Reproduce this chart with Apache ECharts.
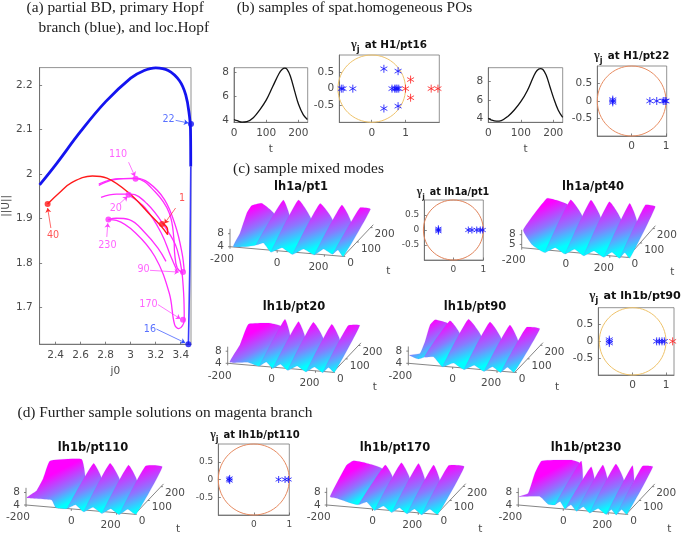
<!DOCTYPE html>
<html><head><meta charset="utf-8">
<style>html,body{margin:0;padding:0;background:#fff}#c{width:685px;height:534px;filter:blur(0.5px)}</style>
<script src="https://cdn.jsdelivr.net/npm/echarts@6/dist/echarts.min.js"></script>
</head><body><div id="c"></div>
<script>
// ---------- panel (a) bifurcation diagram: [j0, ||U||]
const blueThick=[[2.272,1.976],[2.4,2.021],[2.6,2.096],[2.8,2.163],[3.0,2.216],[3.1,2.232],[3.2,2.239],[3.3,2.233],[3.39,2.21],[3.44,2.178],[3.47,2.13],[3.478,2.1],[3.48,2.017]];
const blueThin=[[3.48,2.017],[3.475,1.85],[3.468,1.72],[3.461,1.618]];
const redBranch=[[2.336,1.933],[2.426,1.957],[2.528,1.981],[2.694,1.996],[2.81,1.991],[2.988,1.957],[3.142,1.913],[3.244,1.883],[3.295,1.864],[3.295,1.875],[3.257,1.89]];
const magenta1=[[2.745,1.975],[2.86,1.987],[3.039,1.991],[3.142,1.981],[3.27,1.943],[3.359,1.883],[3.41,1.823],[3.428,1.782]];
const magenta2=[[2.745,1.978],[2.912,1.99],[3.039,1.99],[3.193,1.961],[3.308,1.913],[3.346,1.853],[3.351,1.823],[3.372,1.789],[3.418,1.778]];
const magenta3=[[2.763,1.948],[2.886,1.955],[3.001,1.955],[3.129,1.934],[3.27,1.883],[3.372,1.83],[3.423,1.733],[3.428,1.673],[3.385,1.653],[3.351,1.662],[3.308,1.733],[3.193,1.815],[3.039,1.868],[2.886,1.896],[2.822,1.898]];
const magenta4=[[2.822,1.898],[2.886,1.901],[2.988,1.898],[3.116,1.868],[3.218,1.834],[3.282,1.804]];
const magenta5=[[2.988,1.952],[3.116,1.924],[3.244,1.868],[3.321,1.815],[3.372,1.782]];
const redPts=[[2.336,1.933],[3.25,1.888]];
const magentaPts=[[3.039,1.99],[2.983,1.954],[2.822,1.898],[3.418,1.78],[3.418,1.673]];
const bluePts=[[3.482,2.113],[3.461,1.618]];
// [text, color, labelX, labelY, arrowFromX, arrowFromY, arrowToX, arrowToY]
const annotations=[
 ['22','#2f4dff',3.303,2.122,3.359,2.121,3.461,2.115],
 ['16','#2f4dff',3.154,1.651,3.206,1.652,3.436,1.621],
 ['110','#ff3cff',2.899,2.044,2.983,2.027,3.034,1.995],
 ['20','#ff3cff',2.881,1.922,2.912,1.934,2.975,1.95],
 ['1','#ff2a2a',3.41,1.946,3.359,1.924,3.27,1.889],
 ['40','#ff2a2a',2.38,1.862,2.362,1.879,2.336,1.924],
 ['230','#ff3cff',2.814,1.84,2.809,1.859,2.817,1.89],
 ['90','#ff3cff',3.103,1.785,3.154,1.784,3.385,1.78],
 ['170','#ff3cff',3.142,1.707,3.218,1.707,3.397,1.675]];
const j0Ticks=[2.4,2.6,2.8,3,3.2,3.4];
const normTicks=[1.7,1.8,1.9,2,2.1,2.2];

// ---------- panel (b) time series
const pt16Series=[[0,4.1],[10,4],[25,3.88],[40,3.92],[60,4.25],[80,4.9],[100,5.7],[120,6.8],[140,7.9],[150,8.25],[158,8.35],[165,8.25],[175,7.7],[190,6.3],[200,5.4],[215,4.5],[228,4.1]];
const pt22Series=[[0,4],[10,3.8],[25,3.68],[40,3.75],[60,4.2],[80,4.9],[100,5.8],[120,7],[140,8.6],[150,9.2],[160,9.4],[168,9.3],[178,8.7],[190,7.4],[200,6.3],[215,4.9],[229,4.1]];
const timeTicks=[0,100,200];

// ---------- Floquet multipliers
const pt16Blue=[[-0.9,0],[-0.85,0],[-0.56,0],[0.36,0.59],[0.78,0.52],[0.36,-0.59],[0.78,-0.52],[0.6,0],[0.68,0],[0.72,0],[0.8,0],[0.75,0]];
const pt16Red=[[1,0],[1.15,0.27],[1.15,-0.27],[1.76,0],[1.96,0]];
const pt22Blue=[[-0.55,0],[-0.55,0.04],[-0.55,-0.04],[0.53,0],[0.73,0],[0.92,0],[0.97,0],[1,0]];
const lh1aPt1Blue=[[-0.5,0],[-0.5,0.04],[-0.5,-0.04],[0.5,0],[0.62,0],[0.78,0],[0.9,0],[0.98,0]];
const lh1bPt90Blue=[[-0.7,0],[-0.7,0.05],[-0.7,-0.05],[0.72,0],[0.8,0],[0.88,0],[0.95,0]];
const lh1bPt90Red=[[1.2,0]];
const lh1bPt110Blue=[[-0.7,0],[-0.68,0.03],[-0.68,-0.03],[0.7,0],[0.88,0],[0.98,0]];

// ---------- waterfall surfaces: crest at t=200, valley at t=0 for each ridge
const pt1CrestX=[-181,-90,-26,66,158,235,280];
const pt1CrestZ=[8.6,10.2,10.6,10.1,10.2,9.85,9.7];
const pt1ValleyZ=[4.1,5.2,3.4,3.3,3.7,4.4,3.9];
const pt1Lead=[[-186,0,4.1],[-200,73,4.9],[-200,122,8.8],[-200,159,9.6]];
const pt1Base=[];
const pt40CrestX=[-160,-94,-2,82,174,245,291];
const pt40CrestZ=[10.05,10.5,11,11,11.1,11,10.8];
const pt40ValleyZ=[5.1,3.2,3.3,3.3,3.4,3.5,3.8];
const pt40Lead=[[-193,0,9.5],[-202,200,10.3]];
const pt40Base=[[-151,5.1]];
const pt20CrestX=[-123,-55,6,74,158,233,286];
const pt20CrestZ=[8.9,10.6,10.2,10.4,10.3,10.3,10.7];
const pt20ValleyZ=[4.4,4,3.6,3.4,3.4,3.6,4];
const pt20Lead=[[-190,0,4.4],[-200,97,5.8],[-200,163,9.7]];
const pt20Base=[[-109,4.9]];
const pt90CrestX=[-195,-128,-45,52,142,217,277];
const pt90CrestZ=[9.4,9.5,10.5,10.2,9.8,9.5,9.4];
const pt90ValleyZ=[6.7,6.5,3.8,3.5,3.5,3.6,4];
const pt90Lead=[[-195,0,6.7],[-200,91,3.2],[-200,130,5.3],[-200,169,9]];
const pt90Base=[[-155,5.7]];
const pt110CrestX=[-70,-18,55,136,212,286];
const pt110CrestZ=[10.6,9.6,10.1,10,10.2,10.4];
const pt110ValleyZ=[6.35,4,3.4,3.4,3.5,4];
const pt110Lead=[[-197,0,6.35],[-200,81,5],[-200,132,6.7],[-210,200,9.2]];
const pt110Base=[[-68,3.9],[-87,6.3]];
const pt170CrestX=[-148,-60,10,85,151,216,285];
const pt170CrestZ=[8.9,8.7,9.85,10.1,10,10.2,10.3];
const pt170ValleyZ=[6.7,5,3.6,3.4,3.4,3.5,4];
const pt170Lead=[[-185,0,6.7],[-200,88,8],[-200,151,10],[-199,200,9.2]];
const pt170Base=[[-113,5.6],[-156,6.4]];
const pt230CrestX=[-80,-36,8,60,118,192,236,283];
const pt230CrestZ=[10.3,10.25,8.7,9.6,10.25,10.2,10.3,10.4];
const pt230ValleyZ=[6.7,5.1,4,3.6,3.4,3.4,3.5,4];
const pt230Lead=[[-197,0,6.7],[-200,76,4.4],[-200,127,8.5],[-212,200,9.2]];
const pt230Base=[[-68,5.1],[-104,7.3]];
const surfXTicks=[-200,0,200];
const surfTTicks=[0,100,200];
const crestT=200;
const xEnd=280, tEnd=220;
const frontBumpZ=1.7;

// ---------- option assembly
const SANS='"DejaVu Sans"', SERIF='"Liberation Serif"', INK='#4a4a4a';
const grids=[],xAxes=[],yAxes=[],series=[],titles=[];
function addGrid(left,top,width,height,border){
  grids.push({left,top,width,height,show:!!border,borderColor:'#777',borderWidth:0.8,backgroundColor:'transparent'});
  return grids.length-1;
}
function plotAxis(gi,min,max,ticks,size,extra){
  return Object.assign({type:'value',gridIndex:gi,min,max,
    axisLine:{show:true,onZero:false,lineStyle:{color:'#666',width:0.8}},
    axisTick:{show:true,inside:true,length:2.5,customValues:ticks,lineStyle:{color:'#666',width:0.8}},
    axisLabel:{show:true,customValues:ticks,fontFamily:SANS,fontSize:size,color:INK,margin:5,hideOverlap:false,showMinLabel:true,showMaxLabel:true},
    splitLine:{show:false}},extra||{});
}
function text(t,left,top,size){titles.push({text:t,left,top,textAlign:'left',padding:0,textStyle:{fontFamily:SERIF,fontWeight:'normal',fontSize:size||15.4,color:'#222'}});}

// headings
text('(a) partial BD, primary Hopf',26.5,0);
text('branch (blue), and loc.Hopf',38.6,20);
text('(b) samples of spat.homogeneous POs',236.7,0);
text('(c) sample mixed modes',233,161);
text('(d) Further sample solutions on magenta branch',17.5,405);

// panel (a)
(function(){
  const g=addGrid(33.4,67.6,157.6,276.6,true);
  xAxes.push(plotAxis(g,2.272,3.482,j0Ticks,10.5,{name:'j0',nameLocation:'middle',nameGap:22,nameTextStyle:{fontFamily:SANS,fontSize:10.5,color:INK},axisLabel:{customValues:j0Ticks,fontFamily:SANS,fontSize:10.5,color:INK,margin:6,formatter:v=>String(v)}}));
  yAxes.push(plotAxis(g,1.618,2.2395,normTicks,10.5,{name:'||U||',nameLocation:'middle',nameGap:22,nameTextStyle:{fontFamily:SANS,fontSize:10.5,color:INK},axisLabel:{customValues:normTicks,fontFamily:SANS,fontSize:10.5,color:INK,margin:7,formatter:v=>String(v)}}));
  const line=(d,c,w)=>series.push({type:'line',xAxisIndex:g,yAxisIndex:g,data:d,showSymbol:false,smooth:0.4,clip:false,lineStyle:{color:c,width:w},silent:true,z:3});
  line(magenta1,'#ff2cff',1.3);line(magenta2,'#ff2cff',1.3);line(magenta3,'#ff2cff',1.3);line(magenta4,'#ff2cff',1.3);line(magenta5,'#ff2cff',1.3);
  line(redBranch,'#ff1a1a',1.4);
  line(blueThick,'#1414f0',2.8);line(blueThin,'#3a3aff',1.6);
  const dots=(d,c)=>series.push({type:'scatter',xAxisIndex:g,yAxisIndex:g,data:d,symbol:'circle',symbolSize:6,clip:false,itemStyle:{color:c},z:5});
  dots(redPts,'#ff1a1a');dots(magentaPts,'#ff2cff');dots(bluePts,'#1414f0');
  annotations.forEach(a=>{
    series.push({type:'scatter',xAxisIndex:g,yAxisIndex:g,data:[[a[2],a[3]]],symbolSize:0,clip:false,z:6,
      label:{show:true,position:'inside',formatter:a[0],fontFamily:SANS,fontSize:9.6,color:a[1]},
      markLine:{silent:true,symbol:['none','arrow'],symbolSize:4.5,label:{show:false},animation:false,
        lineStyle:{color:a[1],width:0.7,type:'solid'},
        data:[[{coord:[a[4],a[5]]},{coord:[a[6],a[7]]}]]}});
  });
})();

// time series
function addTime(left,top,width,height,xmax,ymin,ymax,yticks,data){
  const g=addGrid(left,top,width,height,true);
  xAxes.push(plotAxis(g,0,xmax,timeTicks,10.5,{name:'t',nameLocation:'middle',nameGap:21,nameTextStyle:{fontFamily:SANS,fontSize:10.5,color:INK}}));
  yAxes.push(plotAxis(g,ymin,ymax,yticks,10.5));
  series.push({type:'line',xAxisIndex:g,yAxisIndex:g,data,showSymbol:false,smooth:0.4,lineStyle:{color:'#111',width:1.3},silent:true});
}
addTime(234,67.7,73.7,54.6,229,3.87,8.38,[4,6,8],pt16Series);
addTime(488.3,67.7,74.4,54.6,229,3.56,9.5,[4,6,8],pt22Series);

// multiplier plots
const STAR='path://M0 -10V10M-8.66 -5L8.66 5M-8.66 5L8.66 -5';
function addGamma(o){
  const g=addGrid(o.left,o.top,o.width,o.height,true);
  xAxes.push(plotAxis(g,o.xmin,o.xmax,[0,1],o.font));
  yAxes.push(plotAxis(g,-1,1,[-0.5,0,0.5],o.font));
  series.push({type:'custom',xAxisIndex:g,yAxisIndex:g,data:[[0,0]],clip:false,silent:true,z:2,
    renderItem:(p,api)=>{const c=api.coord([0,0]),s=api.size([1,1]);
      return {type:'ellipse',shape:{cx:c[0],cy:c[1],rx:s[0],ry:s[1]},style:{fill:'none',stroke:o.circle,lineWidth:1}};}});
  const stars=(d,c)=>series.push({type:'scatter',xAxisIndex:g,yAxisIndex:g,data:d,clip:false,symbol:STAR,symbolSize:o.star||8,symbolKeepAspect:true,z:4,
    itemStyle:{color:'transparent',borderColor:c,borderWidth:0.9,opacity:0.9}});
  if(o.red)stars(o.red,'#ff2020');
  stars(o.blue,'#1010ff');
  titles.push({text:'{g|γ}{j|j} {b|at '+o.name+'}',left:o.tx,top:o.ty,textAlign:'center',padding:0,
    textStyle:{rich:{g:{fontFamily:SERIF,fontSize:o.tsize+2,color:'#222'},
      j:{fontFamily:SANS,fontWeight:'bold',fontSize:o.tsize-2,color:'#222',verticalAlign:'bottom',padding:[6,0,0,0]},
      b:{fontFamily:SANS,fontWeight:'bold',fontSize:o.tsize,color:'#111'}}}});
}
addGamma({left:339.3,top:55,width:100,height:67.3,xmin:-0.96,xmax:2,font:10.5,circle:'#efc36a',blue:pt16Blue,red:pt16Red,name:'H1/pt16',tx:389,ty:36,tsize:10.4});
addGamma({left:597.3,top:66,width:69.4,height:70,xmin:-1,xmax:1.02,font:10.5,circle:'#e88d62',blue:pt22Blue,name:'H1/pt22',tx:631.7,ty:47,tsize:10.3});
addGamma({left:424.3,top:200,width:59,height:60,xmin:-0.97,xmax:1,font:9,circle:'#e0835a',blue:lh1aPt1Blue,name:'lh1a/pt1',tx:453,ty:183,tsize:9.6,star:7});
addGamma({left:598.3,top:307.7,width:75.7,height:67.3,xmin:-1.03,xmax:1.24,font:10.5,circle:'#efc36a',blue:lh1bPt90Blue,red:lh1bPt90Red,name:'lh1b/pt90',tx:635,ty:287,tsize:11.2});
addGamma({left:218.3,top:444,width:71,height:71,xmin:-1,xmax:1,font:9,circle:'#e68a60',blue:lh1bPt110Blue,name:'lh1b/pt110',tx:255,ty:426,tsize:10,star:7});

// waterfall surfaces
const EX=0.236,EY=0.0202,TX=0.1364,TY=0.144,ZS=3.25,NOTCH=0.68;
const toU=(x,t)=>x+t*TX/EX;
const toV=(x,t,z)=>z+t*TY/ZS-(x+200)*EY/ZS;
function addSurface(o){
  const W=175*o.s,H=78,B=28;
  const g=addGrid(o.ox,o.oy-H,W,H+B,false);
  xAxes.push({type:'value',gridIndex:g,show:false,min:-200,max:-200+W/(EX*o.s)});
  yAxes.push({type:'value',gridIndex:g,show:false,min:4-B/(ZS*o.s),max:4+H/(ZS*o.s)});
  const P=(api,x,t,z)=>api.coord([toU(x,t),toV(x,t,z)]);
  series.push({type:'custom',xAxisIndex:g,yAxisIndex:g,data:[[0]],clip:false,silent:true,z:1,
    renderItem:(p,api)=>{
      const kids=[];
      const ln=(a,b)=>kids.push({type:'line',shape:{x1:a[0],y1:a[1],x2:b[0],y2:b[1]},style:{stroke:'#666',lineWidth:0.8}});
      const tx=(s,q,align,dx,dy)=>kids.push({type:'text',style:{text:s,x:q[0]+dx,y:q[1]+dy,align,verticalAlign:'middle',fontFamily:SANS,fontSize:10.5,fill:INK}});
      const O=P(api,-200,0,4),R=P(api,xEnd,0,4),Bk=P(api,xEnd,tEnd,4),Zt=P(api,-200,0,9.5);
      ln(O,R);ln(R,Bk);ln(O,Zt);
      const xdx=[-8,0,-6];
      surfXTicks.forEach((v,i)=>{const q=P(api,v,0,4);ln(q,[q[0],q[1]+2]);tx(String(v),q,'center',xdx[i],12.5);});
      surfTTicks.forEach(v=>{const q=P(api,xEnd,v,4);ln(q,[q[0]+2,q[1]]);tx(String(v),q,'left',4,7);});
      o.zTicks.forEach(v=>{const q=P(api,-200,0,v);ln(q,[q[0]-2,q[1]]);tx(String(v),q,'right',-6,0);});
      tx('t',R,'center',45*o.s,15);
      return {type:'group',children:kids};
    }});
  const n=o.crestX.length;
  const bands=[];for(let i=0;i<n-1;i++)bands.push([i]);
  series.push({type:'custom',xAxisIndex:g,yAxisIndex:g,data:bands,clip:false,silent:true,z:3,
    renderItem:(p,api)=>{
      const i=api.value(0),pts=[];
      const V=k=>[o.crestX[k],0,o.valleyZ[k]], C=k=>[o.crestX[k],crestT,o.crestZ[k]];
      if(i===0)o.lead.forEach(q=>pts.push(q)); else pts.push(V(i));
      const tip=pts.length;
      pts.push(C(i));
      if(i===n-2){pts.push(C(n-1));pts.push(V(n-1));}
      else{
        const a=V(i+1),b=C(i+1),f=(i===0&&o.notch0)?o.notch0:NOTCH;
        pts.push([a[0]+(b[0]-a[0])*f,a[1]+(b[1]-a[1])*f,a[2]+(b[2]-a[2])*f]);
        pts.push(a);
      }
      if(i===0)o.base.forEach(q=>pts.push([q[0],0,q[1]]));
      else{
        const a=V(i),b=V(i+1);
        pts.push([(a[0]+b[0])/2,0,(a[2]+b[2])/2+frontBumpZ]);
      }
      const px=pts.map(q=>P(api,q[0],q[1],q[2]));
      const ct=px[tip],vb=P(api,o.crestX[i],0,o.valleyZ[i]);
      const gx=Math.min(15,0.72*Math.abs(ct[0]-vb[0])),gy=0.72*Math.abs(vb[1]-ct[1]);
      return {type:'polygon',shape:{points:px,smooth:0.12},style:{
        fill:{type:'linear',global:true,x:ct[0],y:ct[1],x2:ct[0]+gx,y2:ct[1]+gy,
          colorStops:[{offset:0,color:'#ff00ff'},{offset:0.55,color:'#8a78ff'},{offset:1,color:'#00ffff'}]},
        stroke:'rgba(130,90,230,0.35)',lineWidth:0.4}};
    }});
  titles.push({text:o.title,left:o.tx,top:o.ty,textAlign:'center',padding:0,textStyle:{fontFamily:SANS,fontWeight:'bold',fontSize:11.5,color:'#111'}});
}
addSurface({ox:230,oy:246.7,s:1,zTicks:[4,8],crestX:pt1CrestX,crestZ:pt1CrestZ,valleyZ:pt1ValleyZ,lead:pt1Lead,base:pt1Base,title:'lh1a/pt1',tx:301,ty:181});
addSurface({ox:521.7,oy:247.7,s:1,zTicks:[5,8],notch0:0.9,crestX:pt40CrestX,crestZ:pt40CrestZ,valleyZ:pt40ValleyZ,lead:pt40Lead,base:pt40Base,title:'lh1a/pt40',tx:593,ty:181});
addSurface({ox:227.7,oy:363.3,s:0.93,zTicks:[4,8],notch0:0.85,crestX:pt20CrestX,crestZ:pt20CrestZ,valleyZ:pt20ValleyZ,lead:pt20Lead,base:pt20Base,title:'lh1b/pt20',tx:294,ty:301});
addSurface({ox:408.3,oy:363.3,s:0.94,zTicks:[4,8],notch0:0.92,crestX:pt90CrestX,crestZ:pt90CrestZ,valleyZ:pt90ValleyZ,lead:pt90Lead,base:pt90Base,title:'lh1b/pt90',tx:475,ty:301});
addSurface({ox:26,oy:505,s:0.96,zTicks:[4,8],crestX:pt110CrestX,crestZ:pt110CrestZ,valleyZ:pt110ValleyZ,lead:pt110Lead,base:pt110Base,title:'lh1b/pt110',tx:93,ty:442});
addSurface({ox:326.7,oy:505,s:0.97,zTicks:[4,8],notch0:0.9,crestX:pt170CrestX,crestZ:pt170CrestZ,valleyZ:pt170ValleyZ,lead:pt170Lead,base:pt170Base,title:'lh1b/pt170',tx:395,ty:442});
addSurface({ox:518.3,oy:505,s:0.96,zTicks:[4,8],notch0:0.95,crestX:pt230CrestX,crestZ:pt230CrestZ,valleyZ:pt230ValleyZ,lead:pt230Lead,base:pt230Base,title:'lh1b/pt230',tx:586,ty:442});

const chart=echarts.init(document.getElementById('c'));
chart.setOption({animation:false,backgroundColor:'#fff',title:titles,grid:grids,xAxis:xAxes,yAxis:yAxes,series});
</script></body></html>
